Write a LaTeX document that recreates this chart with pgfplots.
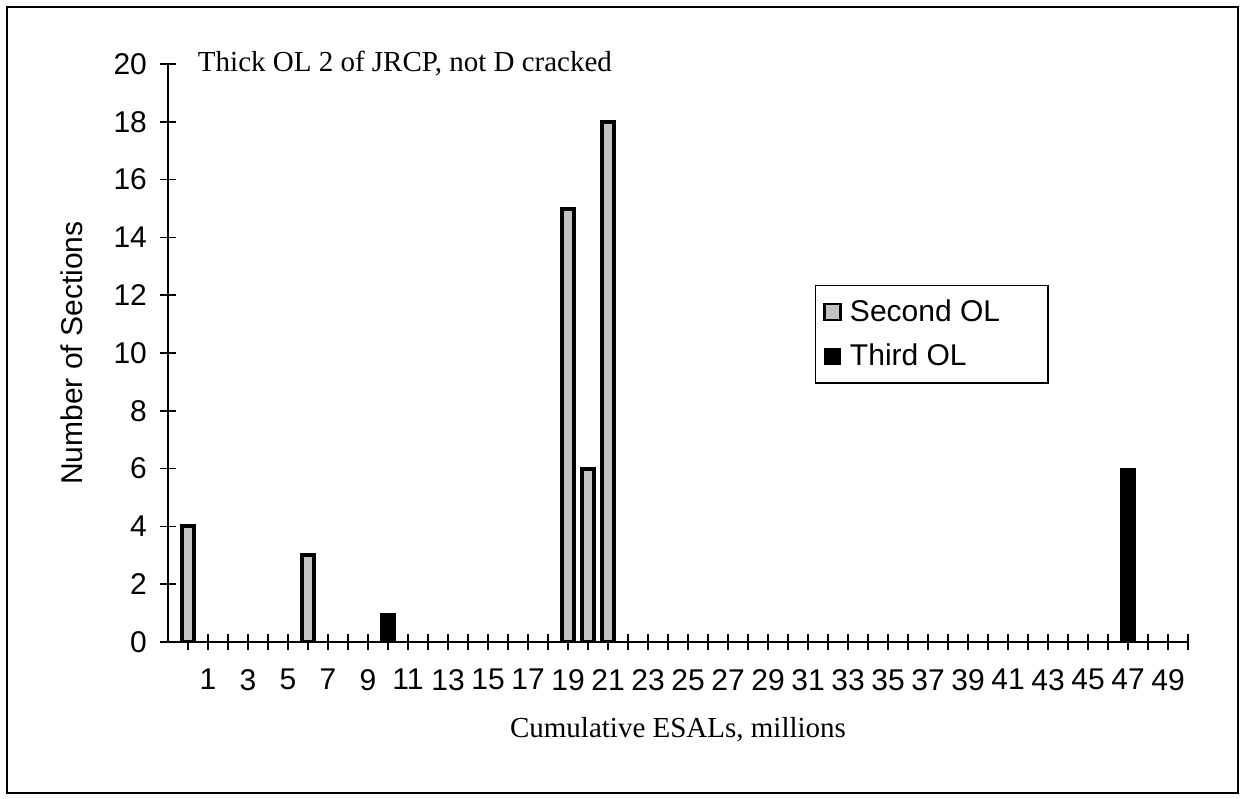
\documentclass[border=0pt]{standalone}
\usepackage{fontspec}
\setmainfont{Liberation Serif}
\setsansfont{Liberation Sans}
\usepackage{pgfplots}
\pgfplotsset{compat=1.18}
\definecolor{olgray}{gray}{0.76}
\newcommand{\sanslab}{\sffamily\fontsize{15}{18}\selectfont}
\newcommand{\seriflab}{\rmfamily\fontsize{14.5}{17}\selectfont}
\begin{document}
\begin{tikzpicture}
\useasboundingbox (-84pt,-78pt) rectangle (538.5pt,321pt);
% outer chart frame
\draw[line width=0.7pt] (-80.5pt,-75.5pt) rectangle (535pt,317.5pt);
\begin{axis}[
  at={(0pt,0pt)}, anchor=south west,
  scale only axis, width=510pt, height=289pt,
  xmin=-1, xmax=50, ymin=0, ymax=20,
  axis lines*=left,
  axis line style={black, line width=1pt},
  xtick={1,3,...,49}, minor xtick={0,2,...,50},
  ytick={0,2,...,20},
  tick align=center, major tick length=8pt, minor tick length=8pt,
  tick style={black, line width=0.8pt},
  minor tick style={black, line width=0.8pt},
  ticklabel style={font=\sanslab},
  xticklabel style={yshift=-6pt},
  yticklabel style={xshift=-3pt},
  /pgf/number format/assume math mode=true,
  title={Thick OL 2 of JRCP, not D cracked},
  title style={at={(axis description cs:0.029,1)}, anchor=west, yshift=-6pt, font=\seriflab, inner sep=0pt},
  xlabel={Cumulative ESALs, millions},
  xlabel style={at={(axis description cs:0.5,-0.152)}, anchor=center, font=\seriflab},
  ylabel={Number of Sections},
  ylabel style={at={(axis description cs:-0.094,0.5)}, anchor=center, font=\sanslab},
  legend style={at={(axis description cs:0.634,0.618)}, anchor=north west,
    draw=black, line width=0.7pt, font=\sanslab, row sep=6pt, column sep=2pt,
    inner xsep=4pt, inner ysep=5pt},
  legend cell align=left,
]
\addplot[ybar, bar shift=0pt, bar width=5.8pt, fill=olgray, draw=black, line width=2pt,
  legend image code/.code={\draw[fill=olgray, draw=black, line width=1.3pt] (0pt,-4pt) rectangle (8pt,4pt);}]
  coordinates {(0,4) (6,3) (19,15) (20,6) (21,18)};
\addlegendentry{\makebox[93pt][l]{Second OL}}
\addplot[ybar, bar shift=0pt, bar width=7.8pt, fill=black, draw=black, line width=0.4pt,
  legend image code/.code={\draw[fill=black, draw=black, line width=0.6pt] (0pt,-4pt) rectangle (8pt,4pt);}]
  coordinates {(10,1) (47,6)};
\addlegendentry{\makebox[93pt][l]{Third OL}}
\end{axis}
\end{tikzpicture}
\end{document}
